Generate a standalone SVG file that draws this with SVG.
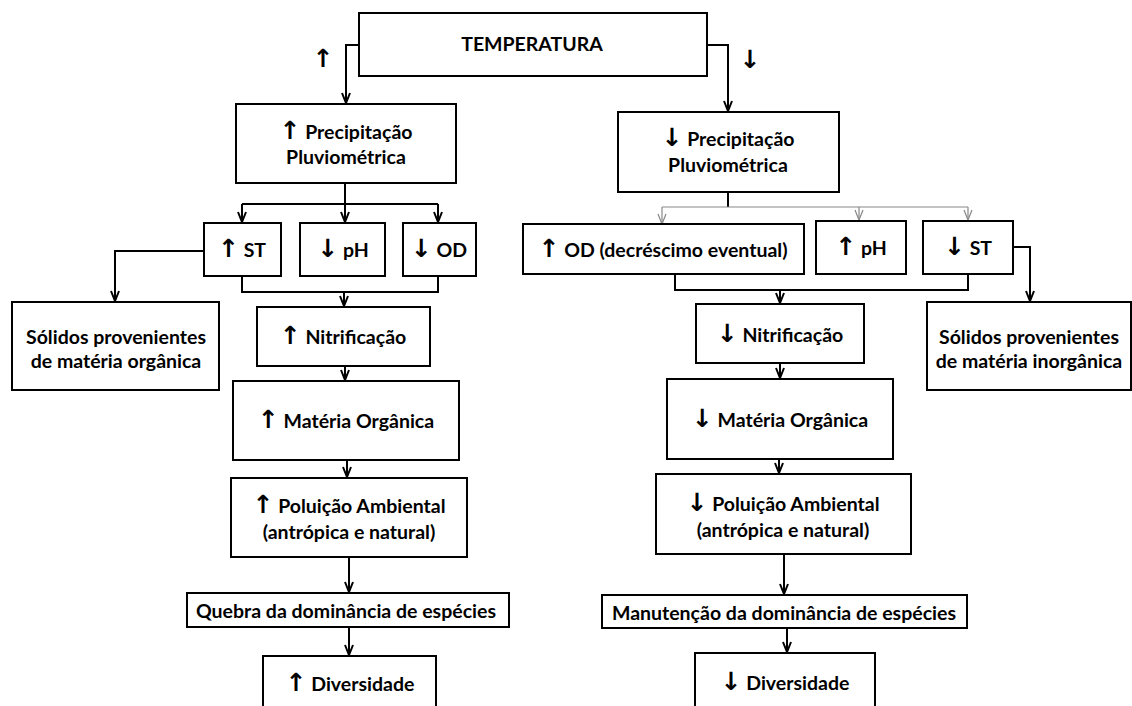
<svg xmlns="http://www.w3.org/2000/svg" width="1132" height="706" viewBox="0 0 1132 706">
<style>
.box{fill:#fff;stroke:#000;stroke-width:2}
.t{font-family:Lato,"Liberation Sans",sans-serif;font-weight:bold;font-size:19.5px;fill:#000;text-anchor:middle}
.a{font-family:"DejaVu Sans",sans-serif;font-weight:bold;font-size:25px}
.c{fill:none;stroke:#000;stroke-width:2}
.g{fill:none;stroke:#888;stroke-width:1.2}
</style>
<defs>
<marker id="ah" viewBox="0 0 12 10" refX="11" refY="5" markerWidth="12" markerHeight="10" markerUnits="userSpaceOnUse" orient="auto">
<path d="M1,1 L11,5 L1,9" fill="none" stroke="#000" stroke-width="2"/>
</marker>
<marker id="ag" viewBox="0 0 12 10" refX="11" refY="5" markerWidth="12" markerHeight="10" markerUnits="userSpaceOnUse" orient="auto">
<path d="M1,1 L11,5 L1,9" fill="none" stroke="#888" stroke-width="1.2"/>
</marker>
</defs>
<rect width="1132" height="706" fill="#fff"/>
<g id="connectors">
<path class="c" d="M359,45 H346 V103" marker-end="url(#ah)"/>
<path class="c" d="M707,45 H728 V111" marker-end="url(#ah)"/>
<path class="c" d="M345,183 V204"/>
<path class="c" d="M242,204 H438"/>
<path class="c" d="M242,204 V222" marker-end="url(#ah)"/>
<path class="c" d="M345,204 V222" marker-end="url(#ah)"/>
<path class="c" d="M438,204 V222" marker-end="url(#ah)"/>
<path class="c" d="M242,276 V292 H438 V276"/>
<path class="c" d="M344,292 V306" marker-end="url(#ah)"/>
<path class="c" d="M204,251 H115 V301" marker-end="url(#ah)"/>
<path class="c" d="M345,366 V380" marker-end="url(#ah)"/>
<path class="c" d="M347,460 V477" marker-end="url(#ah)"/>
<path class="c" d="M349,557 V592" marker-end="url(#ah)"/>
<path class="c" d="M349,627 V655" marker-end="url(#ah)"/>
<path class="c" d="M728,192 V207"/>
<path class="g" d="M662,207 H968"/>
<path class="g" d="M662,207 V224" marker-end="url(#ag)"/>
<path class="g" d="M859,207 V220" marker-end="url(#ag)"/>
<path class="g" d="M968,207 V220" marker-end="url(#ag)"/>
<path class="c" d="M675,274 V290 H968 V274"/>
<path class="c" d="M780,290 V303" marker-end="url(#ah)"/>
<path class="c" d="M1013,247 H1030 V301" marker-end="url(#ah)"/>
<path class="c" d="M780,363 V378" marker-end="url(#ah)"/>
<path class="c" d="M779,459 V473" marker-end="url(#ah)"/>
<path class="c" d="M784,554 V594" marker-end="url(#ah)"/>
<path class="c" d="M787,628 V652" marker-end="url(#ah)"/>
</g>
<g id="arrowUp"><text class="t a" x="323" y="67">↑</text></g>
<g id="arrowDown"><text class="t a" x="750" y="68">↓</text></g>
<g id="temperatura"><rect class="box" x="359" y="13" width="348" height="63"/><text class="t" x="532" y="51" font-size="16.5">TEMPERATURA</text></g>
<g id="precipUp"><rect class="box" x="236" y="104" width="220" height="79"/><text class="t" x="346" y="139"><tspan class="a">↑</tspan> Precipitação</text><text class="t" x="346" y="164">Pluviométrica</text></g>
<g id="stUp"><rect class="box" x="204" y="223" width="77" height="53"/><text class="t" x="242" y="257"><tspan class="a">↑</tspan> ST</text></g>
<g id="phDown"><rect class="box" x="300" y="223" width="85" height="53"/><text class="t" x="343" y="257"><tspan class="a">↓</tspan> pH</text></g>
<g id="odDown"><rect class="box" x="403" y="223" width="73" height="53"/><text class="t" x="439" y="257"><tspan class="a">↓</tspan> OD</text></g>
<g id="solidosOrg"><rect class="box" x="12" y="302" width="207" height="88"/><text class="t" x="116" y="344" font-size="20">Sólidos provenientes</text><text class="t" x="116" y="368" font-size="20">de matéria orgânica</text></g>
<g id="nitriUp"><rect class="box" x="257" y="307" width="173" height="59"/><text class="t" x="343" y="344"><tspan class="a">↑</tspan> Nitrificação</text></g>
<g id="moUp"><rect class="box" x="233" y="381" width="226" height="79"/><text class="t" x="346" y="428"><tspan class="a">↑</tspan>  Matéria Orgânica</text></g>
<g id="poluUp"><rect class="box" x="231" y="478" width="236" height="79"/><text class="t" x="349" y="513"><tspan class="a">↑</tspan>  Poluição Ambiental</text><text class="t" x="349" y="539">(antrópica e natural)</text></g>
<g id="quebra"><rect class="box" x="187" y="593" width="322" height="34"/><text class="t" x="346" y="618">Quebra da dominância de espécies</text></g>
<g id="divUp"><rect class="box" x="263" y="656" width="173" height="60"/><text class="t" x="350" y="691"><tspan class="a">↑</tspan> Diversidade</text></g>
<g id="precipDown"><rect class="box" x="618" y="112" width="221" height="80"/><text class="t" x="728" y="146"><tspan class="a">↓</tspan> Precipitação</text><text class="t" x="728" y="172">Pluviométrica</text></g>
<g id="odUp"><rect class="box" x="523" y="224" width="281" height="50"/><text class="t" x="663" y="257"><tspan class="a">↑</tspan> OD (decréscimo eventual)</text></g>
<g id="phUp"><rect class="box" x="816" y="221" width="90" height="53"/><text class="t" x="861" y="255"><tspan class="a">↑</tspan> pH</text></g>
<g id="stDown"><rect class="box" x="923" y="221" width="90" height="53"/><text class="t" x="968" y="255"><tspan class="a">↓</tspan> ST</text></g>
<g id="nitriDown"><rect class="box" x="696" y="304" width="168" height="59"/><text class="t" x="780" y="342"><tspan class="a">↓</tspan> Nitrificação</text></g>
<g id="solidosInorg"><rect class="box" x="927" y="302" width="204" height="88"/><text class="t" x="1029" y="344" font-size="20">Sólidos provenientes</text><text class="t" x="1029" y="368" font-size="20">de matéria inorgânica</text></g>
<g id="moDown"><rect class="box" x="667" y="379" width="226" height="80"/><text class="t" x="780" y="427"><tspan class="a">↓</tspan>  Matéria Orgânica</text></g>
<g id="poluDown"><rect class="box" x="656" y="474" width="255" height="80"/><text class="t" x="783" y="511"><tspan class="a">↓</tspan>  Poluição Ambiental</text><text class="t" x="783" y="537">(antrópica e natural)</text></g>
<g id="manut"><rect class="box" x="602" y="595" width="365" height="33"/><text class="t" x="784" y="620">Manutenção da dominância de espécies</text></g>
<g id="divDown"><rect class="box" x="695" y="653" width="180" height="60"/><text class="t" x="785" y="690"><tspan class="a">↓</tspan> Diversidade</text></g>
</svg>
